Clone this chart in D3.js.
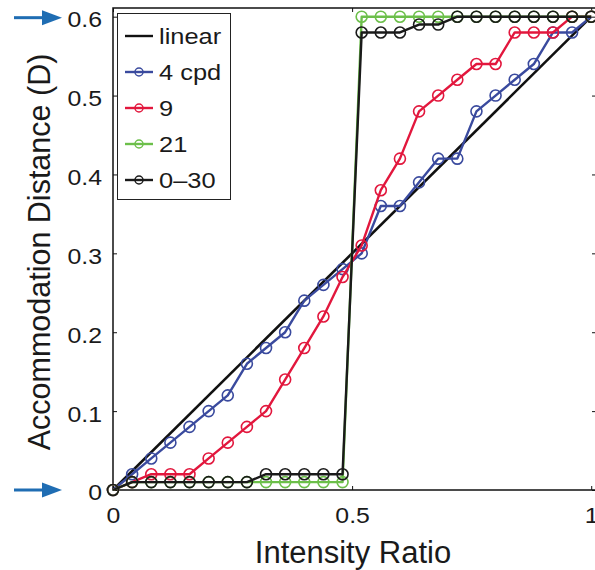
<!DOCTYPE html>
<html>
<head>
<meta charset="utf-8">
<script src="https://cdn.jsdelivr.net/npm/d3@7"></script>
<style>
  html, body { margin: 0; padding: 0; background: #fff; }
  svg { display: block; font-family: "Liberation Sans", Arial, Helvetica, sans-serif; }
</style>
</head>
<body>
<svg id="chart" width="595" height="570"></svg>
<script>
// ---- data ----
const xValues = [0, 0.04, 0.08, 0.12, 0.16, 0.20, 0.24, 0.28, 0.32, 0.36, 0.40, 0.44, 0.48,
                 0.52, 0.56, 0.60, 0.64, 0.68, 0.72, 0.76, 0.80, 0.84, 0.88, 0.92, 0.96, 1.00];
const cpd4 = [0, 0.02, 0.04, 0.06, 0.08, 0.10, 0.12, 0.16, 0.18, 0.20, 0.24, 0.26, 0.28,
              0.30, 0.36, 0.36, 0.39, 0.42, 0.42, 0.48, 0.50, 0.52, 0.54, 0.58, 0.58, 0.60];
const cpd9 = [0, 0.01, 0.02, 0.02, 0.02, 0.04, 0.06, 0.08, 0.10, 0.14, 0.18, 0.22, 0.27,
              0.31, 0.38, 0.42, 0.48, 0.50, 0.52, 0.54, 0.54, 0.58, 0.58, 0.58, 0.60, 0.60];
const cpd21 = [0, 0.01, 0.01, 0.01, 0.01, 0.01, 0.01, 0.01, 0.01, 0.01, 0.01, 0.01, 0.01,
               0.60, 0.60, 0.60, 0.60, 0.60, 0.60, 0.60, 0.60, 0.60, 0.60, 0.60, 0.60, 0.60];
const cpd0_30 = [0, 0.01, 0.01, 0.01, 0.01, 0.01, 0.01, 0.01, 0.02, 0.02, 0.02, 0.02, 0.02,
                 0.58, 0.58, 0.58, 0.59, 0.59, 0.60, 0.60, 0.60, 0.60, 0.60, 0.60, 0.60, 0.60];
const linearX = [0, 1];
const linearY = [0, 0.6];
const seriesNames = ["4 cpd", "9", "21", "0\u201330"];
const seriesColors = ["#3a4a9e", "#e2173d", "#6cbf4a", "#1a1a1a"];
const xTicks = [0, 0.5, 1];
const xTickLabels = ["0", "0.5", "1"];
const yTicks = [0, 0.1, 0.2, 0.3, 0.4, 0.5, 0.6];
const yTickLabels = ["0", "0.1", "0.2", "0.3", "0.4", "0.5", "0.6"];
const arrowValues = [0, 0.6];

// ---- layout ----
const svg = d3.select("#chart");
const pLeft = 113, pRight = 596, pTop = 8, pBottom = 490;
const sx = 1.13; // horizontal stretch of the original figure's small text
const x = d3.scaleLinear().domain([0, 1.01]).range([pLeft, pRight]);
const y = d3.scaleLinear().domain([0, 0.611]).range([pBottom, pTop]);

// frame
svg.append("rect").attr("x", pLeft).attr("y", pTop)
  .attr("width", pRight - pLeft).attr("height", pBottom - pTop)
  .attr("fill", "none").attr("stroke", "#111").attr("stroke-width", 1.5);

// axes with inward ticks
const fs = 22;
const yAxis = svg.append("g").attr("transform", `translate(${pLeft},0)`)
  .call(d3.axisLeft(y).tickValues(yTicks).tickFormat((d, i) => yTickLabels[i])
    .tickSizeInner(-4).tickSizeOuter(0).tickPadding(12));
const yAxisR = svg.append("g").attr("transform", `translate(${pRight},0)`)
  .call(d3.axisRight(y).tickValues(yTicks).tickFormat("").tickSizeInner(-4).tickSizeOuter(0));
const xAxis = svg.append("g").attr("transform", `translate(0,${pBottom})`)
  .call(d3.axisBottom(x).tickValues(xTicks).tickFormat((d, i) => xTickLabels[i])
    .tickSizeInner(-4).tickSizeOuter(0).tickPadding(10));
const xAxisT = svg.append("g").attr("transform", `translate(0,${pTop})`)
  .call(d3.axisTop(x).tickValues(xTicks).tickFormat("").tickSizeInner(-4).tickSizeOuter(0));
[yAxis, yAxisR, xAxis, xAxisT].forEach(g => {
  g.select(".domain").remove();
  g.selectAll("line").attr("stroke", "#111").attr("stroke-width", 1);
  g.selectAll("text").attr("font-size", fs).attr("fill", "#1a1a1a")
    .attr("font-family", "'Liberation Sans', Arial, sans-serif");
});
yAxis.selectAll("text").attr("x", -11 / sx).attr("dy", "0.45em")
  .attr("transform", `scale(${sx},1)`);
xAxis.selectAll("text").attr("y", 33).attr("dy", 0)
  .attr("transform", `scale(${sx},1)`);

// axis titles
svg.append("text").attr("x", 353).attr("y", 563)
  .attr("text-anchor", "middle")
  .attr("font-size", 31).attr("fill", "#1a1a1a").text("Intensity Ratio");
svg.append("text").attr("transform", `translate(50,252) rotate(-90)`)
  .attr("text-anchor", "middle").attr("font-size", 30.5).attr("fill", "#1a1a1a")
  .text("Accommodation Distance (D)");

// arrows
const arrowColor = "#1f6db3";
arrowValues.forEach(v => {
  const yy = y(v) - (v === 0 ? 0 : -1);
  svg.append("line").attr("x1", 14).attr("x2", 46).attr("y1", yy).attr("y2", yy)
    .attr("stroke", arrowColor).attr("stroke-width", 3);
  svg.append("path")
    .attr("d", `M42,${yy - 7.5} L62,${yy} L42,${yy + 7.5} Z`)
    .attr("fill", arrowColor);
});

// linear line
const line = d3.line().x(d => x(d[0])).y(d => y(d[1]));
svg.append("path").datum(d3.zip(linearX, linearY)).attr("d", line)
  .attr("fill", "none").attr("stroke", "#111").attr("stroke-width", 2.6);

// series
const allSeries = [cpd4, cpd9, cpd21, cpd0_30];
allSeries.forEach((vals, i) => {
  const pts = d3.zip(xValues, vals);
  const g = svg.append("g");
  g.append("path").datum(pts).attr("d", line)
    .attr("fill", "none").attr("stroke", seriesColors[i]).attr("stroke-width", 2.4)
    .attr("stroke-linejoin", "round");
  g.selectAll("circle").data(pts).join("circle")
    .attr("cx", d => x(d[0])).attr("cy", d => y(d[1])).attr("r", 5.5)
    .attr("fill", "none").attr("stroke", seriesColors[i]).attr("stroke-width", 1.6);
});

// legend
const lg = svg.append("g");
lg.append("rect").attr("x", 117.5).attr("y", 13.5).attr("width", 113).attr("height", 186)
  .attr("fill", "#fff").attr("stroke", "#222").attr("stroke-width", 1);
const legendNames = ["linear"].concat(seriesNames);
const legendColors = ["#111"].concat(seriesColors);
legendNames.forEach((name, i) => {
  const cy = 36 + i * 36;
  lg.append("line").attr("x1", 125).attr("x2", 153).attr("y1", cy).attr("y2", cy)
    .attr("stroke", legendColors[i]).attr("stroke-width", 2.4);
  if (i > 0) {
    lg.append("circle").attr("cx", 139).attr("cy", cy).attr("r", 4)
      .attr("fill", "none").attr("stroke", legendColors[i]).attr("stroke-width", 1.5);
  }
  lg.append("text").attr("transform", `translate(159,${cy + 8}) scale(${sx},1)`)
    .attr("font-size", 22.5).attr("fill", "#1a1a1a").text(name);
});
</script>
</body>
</html>
